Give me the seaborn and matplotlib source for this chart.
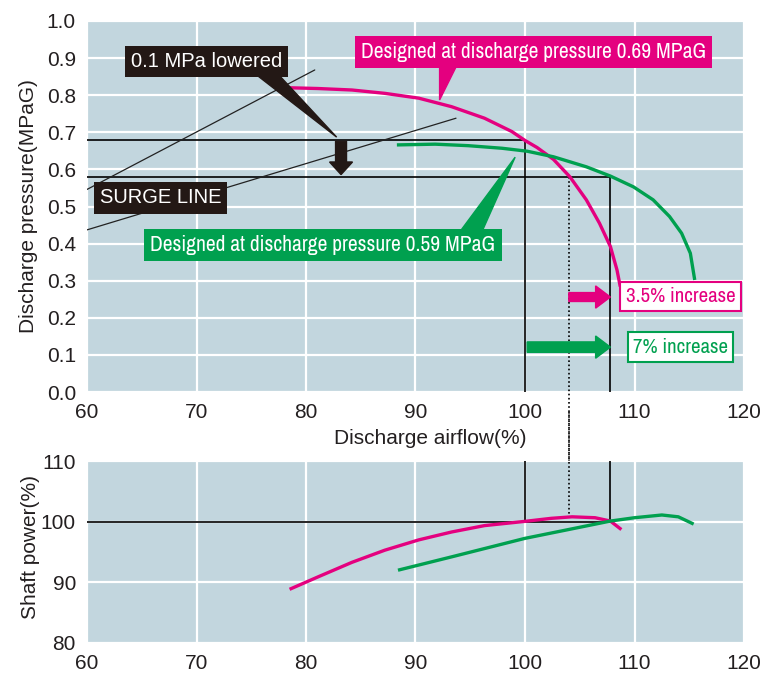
import numpy as np
import pandas as pd
import matplotlib
matplotlib.use("Agg")
import matplotlib.pyplot as plt
import seaborn as sns
from matplotlib import font_manager
from matplotlib.patches import Polygon, FancyArrow

# ---------------- data ----------------
# Discharge pressure curves (airflow %, pressure MPaG)
p069_x = [78.5, 81.1, 84.2, 87.2, 90.3, 93.3, 96.3, 98.8, 100.0, 101.1, 102.6, 104.1, 105.6, 106.8, 107.8, 108.4, 108.7]
p069_y = [0.820, 0.818, 0.814, 0.805, 0.792, 0.769, 0.738, 0.702, 0.678, 0.659, 0.627, 0.580, 0.518, 0.455, 0.392, 0.329, 0.284]
p059_x = [88.3, 91.8, 94.8, 97.9, 100.2, 102.6, 105.6, 107.8, 109.9, 111.7, 113.2, 114.3, 115.1, 115.5]
p059_y = [0.666, 0.668, 0.664, 0.657, 0.649, 0.634, 0.607, 0.582, 0.553, 0.518, 0.473, 0.428, 0.374, 0.302]

# Shaft power curves (airflow %, power %)
s069_x = [78.5, 81.1, 84.2, 87.2, 90.3, 93.3, 96.3, 100.0, 102.4, 104.3, 106.4, 107.8, 108.8]
s069_y = [88.85, 90.9, 93.3, 95.3, 97.0, 98.3, 99.35, 100.05, 100.55, 100.8, 100.65, 100.1, 98.7]
s059_x = [88.4, 93.3, 100.0, 107.8, 110.0, 112.5, 114.0, 115.4]
s059_y = [92.0, 94.2, 97.25, 100.1, 100.65, 101.1, 100.8, 99.6]

# Surge lines
surge1_x = [60.0, 80.8]
surge1_y = [0.546, 0.868]
surge2_x = [60.0, 93.7]
surge2_y = [0.437, 0.738]

# Reference operating points
p_high, p_low = 0.68, 0.58
q_base, q_mid, q_high = 100.0, 104.0, 107.8
s_ref = 100.0
s_mid_top = 100.8

x_ticks = [60, 70, 80, 90, 100, 110, 120]
p_ticks = [0.0, 0.1, 0.2, 0.3, 0.4, 0.5, 0.6, 0.7, 0.8, 0.9, 1.0]
s_ticks = [80, 90, 100, 110]

label_lowered = "0.1 MPa lowered"
label_surge = "SURGE LINE"
label_069 = "Designed at discharge pressure 0.69 MPaG"
label_059 = "Designed at discharge pressure 0.59 MPaG"
label_35 = "3.5% increase"
label_7 = "7% increase"

# ---------------- style ----------------
MAG = "#e4007f"
GRN = "#00a04f"
BG = "#c2d6de"
TXT = "#231f20"
DARK = "#231815"

sns.set_theme(style="white")
avail = {f.name for f in font_manager.fontManager.ttflist}
REG = "Liberation Sans" if "Liberation Sans" in avail else "DejaVu Sans"
narrow_candidates = ["Liberation Sans Narrow", "Nimbus Sans Narrow", "Arial Narrow", "Archivo Narrow",
                     "Roboto Condensed", "PT Sans Narrow", "Pragati Narrow"]
NARROW = next((c for c in narrow_candidates if c in avail), None)
if NARROW is None:
    NARROW, NSIZE = REG, 12.5
else:
    NSIZE = 15
plt.rcParams["font.family"] = [REG, "DejaVu Sans"]

fig = plt.figure(figsize=(7.82, 6.95), dpi=100)
ax1 = fig.add_axes([87 / 782, 1 - 392 / 695, 657 / 782, 371 / 695])
ax2 = fig.add_axes([87 / 782, 1 - 643 / 695, 657 / 782, 182 / 695])

for ax in (ax1, ax2):
    ax.set_facecolor(BG)
    for s in ax.spines.values():
        s.set_visible(False)
    ax.grid(True, color="white", lw=1.6)
    ax.set_axisbelow(True)
    ax.tick_params(length=0, labelsize=15, colors=TXT, pad=8)
    ax.set_xlim(60, 120)
    ax.set_xticks(x_ticks)
    ax.set_xticklabels([str(v) for v in x_ticks])

ax1.set_ylim(0, 1.0)
ax1.set_yticks(p_ticks)
ax1.set_yticklabels([f"{v:.1f}" for v in p_ticks])
ax2.set_ylim(80, 110)
ax2.set_yticks(s_ticks)
ax2.set_yticklabels([str(v) for v in s_ticks])

# ---------------- reference lines ----------------
blk = dict(color="black", lw=1.2, zorder=3)
ax1.plot([60, q_base], [p_high, p_high], **blk)
ax1.plot([60, q_high], [p_low, p_low], **blk)
ax1.plot([q_base, q_base], [p_high, 0], **blk)
ax1.plot([q_high, q_high], [p_low, 0], **blk)
ax1.plot([q_mid, q_mid], [p_low, -0.2], color="black", lw=1.2, ls=(0, (1, 1.5)), zorder=3, clip_on=False)
ax2.plot([60, q_high], [s_ref, s_ref], **blk)
ax2.plot([q_base, q_base], [110, s_ref], **blk)
ax2.plot([q_high, q_high], [110, s_ref], **blk)
ax2.plot([q_mid, q_mid], [118, s_mid_top], color="black", lw=1.2, ls=(0, (1, 1.5)), zorder=3, clip_on=False)

# surge lines
sns.lineplot(x=surge1_x, y=surge1_y, ax=ax1, color="#222222", lw=0.9, sort=False, zorder=3)
sns.lineplot(x=surge2_x, y=surge2_y, ax=ax1, color="#222222", lw=0.9, sort=False, zorder=3)

# ---------------- curves ----------------
curve_kw = dict(lw=2.4, sort=False, zorder=4, solid_capstyle="butt", solid_joinstyle="round")
sns.lineplot(x=p069_x, y=p069_y, ax=ax1, color=MAG, **curve_kw)
sns.lineplot(x=p059_x, y=p059_y, ax=ax1, color=GRN, **curve_kw)
sns.lineplot(x=s069_x, y=s069_y, ax=ax2, color=MAG, **curve_kw)
sns.lineplot(x=s059_x, y=s059_y, ax=ax2, color=GRN, **curve_kw)

# ---------------- annotations ----------------
ax1.add_patch(Polygon([[75.6, 0.852], [77.6, 0.852], [82.8, 0.687]], closed=True, color=DARK, zorder=5))
ax1.add_patch(Polygon([[92.2, 0.876], [93.7, 0.876], [92.2, 0.787]], closed=True, color=MAG, zorder=5))
ax1.add_patch(Polygon([[94.1, 0.434], [96.1, 0.434], [99.1, 0.633]], closed=True, color=GRN, zorder=5))

ax1.add_patch(FancyArrow(83.2, 0.676, 0, -0.09, width=1.0, head_width=2.1, head_length=0.034,
                         length_includes_head=True, color=DARK, zorder=6))
ax1.add_patch(FancyArrow(q_mid, 0.256, q_high - q_mid, 0, width=0.024, head_width=0.06, head_length=1.35,
                         length_includes_head=True, color=MAG, zorder=6))
ax1.add_patch(FancyArrow(q_base + 0.2, 0.121, q_high - q_base - 0.2, 0, width=0.028, head_width=0.06,
                         head_length=1.35, length_includes_head=True, color=GRN, zorder=6))

reg_font = dict(family=[REG, "DejaVu Sans"], fontsize=14.5)
nar_big = dict(family=[NARROW, "DejaVu Sans"], fontsize=NSIZE + 0.5)
nar_font = dict(family=[NARROW, "DejaVu Sans"], fontsize=NSIZE)
ax1.text(70.9, 0.891, label_lowered, ha="center", va="center", color="white", zorder=7,
         bbox=dict(boxstyle="square,pad=0.3", fc=DARK, ec="none"), **reg_font)
ax1.text(66.7, 0.523, label_surge, ha="center", va="center", color="white", zorder=7,
         bbox=dict(boxstyle="square,pad=0.3", fc=DARK, ec="none"), **reg_font)
ax1.text(100.8, 0.916, label_069, ha="center", va="center", color="white", zorder=7,
         bbox=dict(boxstyle="square,pad=0.28", fc=MAG, ec="none"), **nar_big)
ax1.text(81.55, 0.395, label_059, ha="center", va="center", color="white", zorder=7,
         bbox=dict(boxstyle="square,pad=0.28", fc=GRN, ec="none"), **nar_big)
ax1.text(114.2, 0.257, label_35, ha="center", va="center", color=MAG, zorder=7,
         bbox=dict(boxstyle="square,pad=0.25", fc="white", ec=MAG, lw=1.5), **nar_font)
ax1.text(114.2, 0.121, label_7, ha="center", va="center", color=GRN, zorder=7,
         bbox=dict(boxstyle="square,pad=0.25", fc="white", ec=GRN, lw=1.5), **nar_font)

# ---------------- axis labels ----------------
ax1.set_xlabel("Discharge airflow(%)", fontsize=15, color=TXT)
ax1.xaxis.set_label_coords(0.522, -0.10)
ax1.set_ylabel("Discharge pressure(MPaG)", fontsize=15, color=TXT)
ax1.yaxis.set_label_coords(-0.074, 0.5)
ax2.set_ylabel("Shaft power(%)", fontsize=15, color=TXT)
ax2.yaxis.set_label_coords(-0.072, 0.53)
ax2.set_xlabel("")

fig.savefig("out.png", dpi=100, facecolor="white")
